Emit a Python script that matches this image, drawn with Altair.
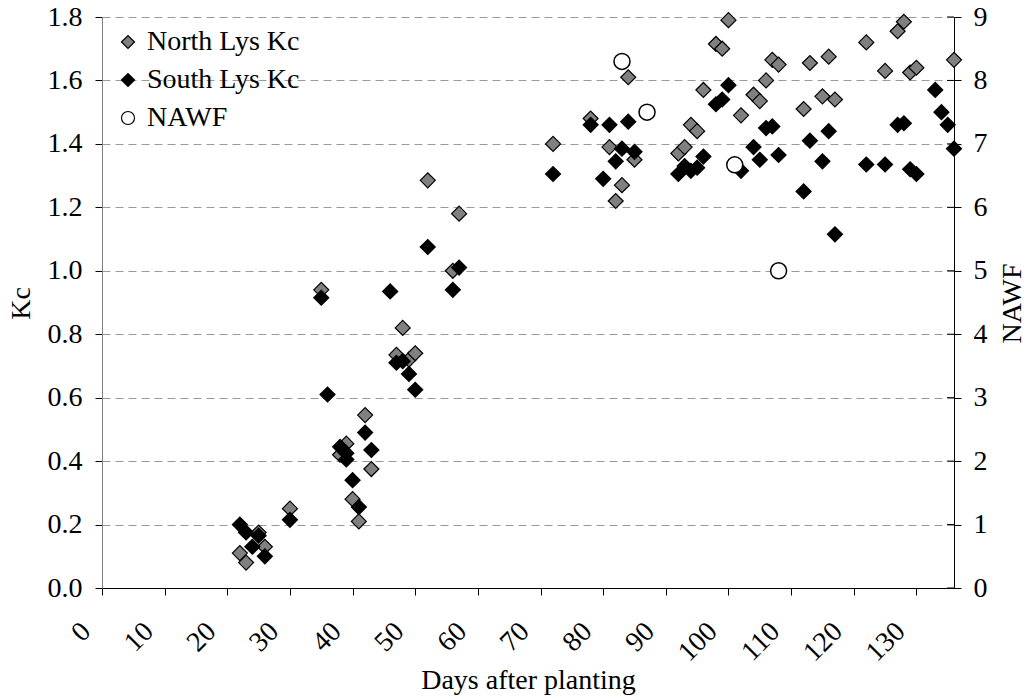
import altair as alt
import pandas as pd

# North Lys Kc (gray diamonds)
north_day = [22, 23, 25, 26, 30, 35, 38, 39, 40, 41, 42, 43, 47, 48, 49, 50, 52, 56, 57,
             72, 78, 81, 82, 83, 84, 85, 92, 93, 94, 95, 96, 98, 99, 100,
             102, 104, 105, 106, 107, 108, 112, 113, 115, 116, 117, 122, 125, 127, 128, 129, 130, 136]
north_kc = [0.11, 0.08, 0.175, 0.13, 0.25, 0.94, 0.42, 0.455, 0.28, 0.21, 0.545, 0.375, 0.735, 0.82, 0.72, 0.74, 1.285, 1.0, 1.18,
            1.40, 1.48, 1.39, 1.22, 1.27, 1.61, 1.35, 1.37, 1.39, 1.46, 1.44, 1.57, 1.715, 1.70, 1.79,
            1.49, 1.555, 1.535, 1.60, 1.665, 1.65, 1.51, 1.655, 1.55, 1.675, 1.54, 1.72, 1.63, 1.755, 1.785, 1.625, 1.64, 1.665]

# South Lys Kc (black diamonds)
south_day = [22, 23, 24, 25, 26, 30, 35, 36, 38, 39, 39, 40, 41, 42, 43, 46, 47, 48, 49, 50, 52, 56, 57,
             72, 78, 80, 81, 82, 83, 84, 85, 92, 93, 94, 95, 96, 98, 99, 100,
             102, 104, 105, 106, 107, 108, 112, 113, 115, 116, 117, 122, 125, 127, 128, 129, 130, 133, 134, 135, 136]
south_kc = [0.20, 0.175, 0.13, 0.165, 0.10, 0.215, 0.915, 0.61, 0.445, 0.425, 0.405, 0.34, 0.255, 0.49, 0.435, 0.935, 0.71, 0.715, 0.675, 0.625, 1.075, 0.94, 1.01,
            1.305, 1.46, 1.29, 1.46, 1.345, 1.385, 1.47, 1.375, 1.305, 1.33, 1.315, 1.325, 1.36, 1.525, 1.54, 1.585,
            1.315, 1.39, 1.35, 1.45, 1.455, 1.365, 1.25, 1.41, 1.345, 1.44, 1.115, 1.335, 1.335, 1.46, 1.465, 1.32, 1.305, 1.57, 1.50, 1.46, 1.385]

# NAWF (open circles, right axis)
nawf_day = [83, 87, 101, 108]
nawf_val = [8.3, 7.5, 6.67, 5.0]

series_names = ["North Lys Kc", "South Lys Kc", "NAWF"]
x_ticks = list(range(0, 140, 10))
kc_ticks = [round(i * 0.2, 1) for i in range(10)]
nawf_ticks = list(range(0, 10))

kc_df = pd.DataFrame({
    "day": north_day + south_day,
    "kc": north_kc + south_kc,
    "series": ["North Lys Kc"] * len(north_day) + ["South Lys Kc"] * len(south_day),
})
nawf_df = pd.DataFrame({"day": nawf_day, "nawf": nawf_val, "series": ["NAWF"] * len(nawf_day)})
nawf_tick_df = pd.DataFrame({"nawf": nawf_ticks})

FONT = "Liberation Serif"
FS = 28

fill_scale = alt.Scale(domain=series_names, range=["#808080", "#000000", "#ffffff"])
shape_scale = alt.Scale(domain=series_names, range=["diamond", "diamond", "circle"])
stroke_scale = alt.Scale(domain=series_names, range=["#000000", "#000000", "#000000"])

legend = alt.Legend(
    title=None, orient="none", legendX=12, legendY=11, padding=0,
    labelFont=FONT, labelFontSize=FS, labelColor="black", labelOffset=5,
    symbolSize=170, rowPadding=10, symbolStrokeWidth=1.2,
)

x_enc = alt.X(
    "day:Q",
    scale=alt.Scale(domain=[0, 136], nice=False, zero=False),
    axis=alt.Axis(
        values=x_ticks, title="Days after planting", labelAngle=315,
        labelAlign="right", labelBaseline="middle", labelPadding=32, labelOffset=-16,
        tickSize=7, tickColor="black", domainColor="black", grid=False,
        labelFont=FONT, labelFontSize=FS, labelColor="black",
        titleFont=FONT, titleFontSize=FS, titleFontWeight="normal", titleColor="black",
        titleY=92, titleBaseline="middle",
    ),
)

nawf_axis = alt.Axis(
    values=nawf_ticks, format="d", title="NAWF", orient="right",
    tickSize=7, tickColor="black", domainColor="black", grid=False,
    labelFont=FONT, labelFontSize=FS, labelColor="black", labelPadding=12,
    titleFont=FONT, titleFontSize=FS, titleFontWeight="normal", titleColor="black",
    titleAngle=270, titleX=58, titleY=286, titleAlign="center", titleBaseline="middle",
)
nawf_scale = alt.Scale(domain=[0, 9], nice=False)

kc_layer = alt.Chart(kc_df).mark_point(
    filled=True, strokeWidth=1.2, size=225, opacity=1
).encode(
    x=x_enc,
    y=alt.Y(
        "kc:Q",
        scale=alt.Scale(domain=[0, 1.8], nice=False),
        axis=alt.Axis(
            values=kc_ticks, format=".1f", title="Kc", orient="left",
            tickSize=7, tickColor="black", domainColor="#808080",
            grid=True, gridColor="#9a9a9a", gridDash=[8, 5], gridWidth=1,
            labelFont=FONT, labelFontSize=FS, labelColor="black", labelPadding=13,
            titleFont=FONT, titleFontSize=FS, titleFontWeight="normal", titleColor="black",
            titleAngle=270, titleX=-81, titleY=286, titleAlign="center", titleBaseline="middle",
        ),
    ),
    fill=alt.Fill("series:N", scale=fill_scale, legend=legend),
    shape=alt.Shape("series:N", scale=shape_scale, legend=legend),
    stroke=alt.Stroke("series:N", scale=stroke_scale, legend=legend),
)

nawf_points = alt.Chart(nawf_df).mark_point(
    filled=True, strokeWidth=1.5, size=256, opacity=1
).encode(
    x=x_enc,
    y=alt.Y("nawf:Q", scale=nawf_scale, axis=nawf_axis),
    fill=alt.Fill("series:N", scale=fill_scale, legend=legend),
    shape=alt.Shape("series:N", scale=shape_scale, legend=legend),
    stroke=alt.Stroke("series:N", scale=stroke_scale, legend=legend),
)

# inward half of the crossing ticks on the right axis
nawf_inner_ticks = alt.Chart(nawf_tick_df).mark_rule(color="black", strokeWidth=1).encode(
    x=alt.value(845), x2=alt.value(852),
    y=alt.Y("nawf:Q", scale=nawf_scale, axis=nawf_axis),
)

nawf_layer = alt.layer(nawf_points, nawf_inner_ticks)

chart = alt.layer(kc_layer, nawf_layer).resolve_scale(y="independent").properties(
    width=852, height=571,
    autosize=alt.AutoSizeParams(type="none"),
    padding={"left": 102, "top": 17, "right": 75, "bottom": 110},
    background="white",
).configure_view(stroke=None)

chart.save("out.html", embed_options={"renderer": "svg", "actions": False})
